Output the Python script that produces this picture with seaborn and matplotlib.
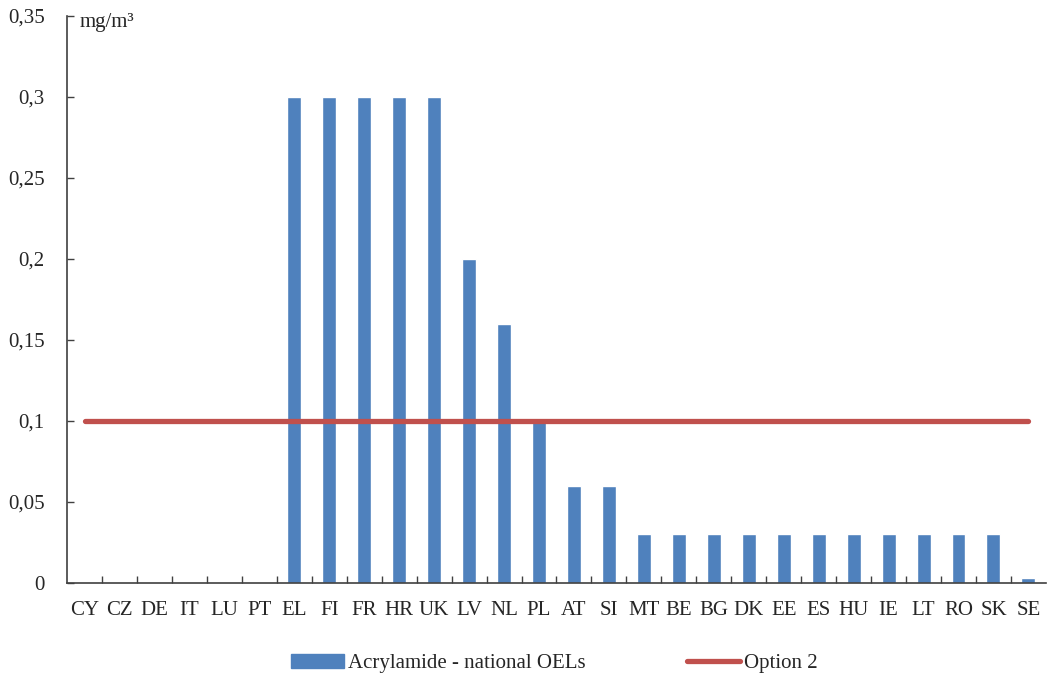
import numpy as np
import pandas as pd
import matplotlib
matplotlib.use('Agg')
import matplotlib.pyplot as plt
import seaborn as sns
from matplotlib.ticker import FixedLocator, FuncFormatter
from matplotlib.patches import Patch
from matplotlib.lines import Line2D

countries = ['CY', 'CZ', 'DE', 'IT', 'LU', 'PT', 'EL', 'FI', 'FR', 'HR', 'UK', 'LV', 'NL', 'PL',
             'AT', 'SI', 'MT', 'BE', 'BG', 'DK', 'EE', 'ES', 'HU', 'IE', 'LT', 'RO', 'SK', 'SE']
national_oels = [0, 0, 0, 0, 0, 0, 0.3, 0.3, 0.3, 0.3, 0.3, 0.2, 0.16, 0.1,
                 0.06, 0.06, 0.03, 0.03, 0.03, 0.03, 0.03, 0.03, 0.03, 0.03, 0.03, 0.03, 0.03, 0.003]
option2 = [0.1] * len(countries)

bar_color = '#4F81BD'
line_color = '#C0504D'

sns.set_style('white')
plt.rcParams['font.family'] = ['Liberation Serif', 'DejaVu Serif']

df = pd.DataFrame({'country': countries, 'oel': national_oels, 'option2': option2})

fig = plt.figure(figsize=(10.48, 6.81), dpi=100)
ax = fig.add_axes([0.064, 0.144, 0.934, 0.8325])

sns.barplot(data=df, x='country', y='oel', color=bar_color, width=0.4,
            saturation=1, ax=ax, order=countries)
ax.plot(np.arange(len(countries)), df['option2'], color=line_color, lw=3.8,
        solid_capstyle='round')

ax.set_xlim(-0.5, len(countries) - 0.5)
ax.set_ylim(0, 0.35)
ax.set_xlabel('')
ax.set_ylabel('')

ax.yaxis.set_major_locator(FixedLocator([0, 0.05, 0.1, 0.15, 0.2, 0.25, 0.3, 0.35]))
ax.yaxis.set_major_formatter(FuncFormatter(lambda v, p: ('%g' % round(v, 2)).replace('.', ',')))
ax.tick_params(axis='y', direction='in', length=5, width=1, color='#404040',
               labelsize=15, pad=16, left=True)
ax.tick_params(axis='x', which='major', length=0, labelsize=15, pad=13)
ax.xaxis.set_minor_locator(FixedLocator(np.arange(0.5, len(countries) - 0.5, 1)))
ax.tick_params(axis='x', which='minor', direction='in', length=5, width=1,
               color='#404040', bottom=True)

for s in ['top', 'right']:
    ax.spines[s].set_visible(False)
for s in ['left', 'bottom']:
    ax.spines[s].set_color('#404040')
    ax.spines[s].set_linewidth(1.2)

ax.text(0.013, 1.005, 'mg/m³', transform=ax.transAxes, fontsize=15, va='top', ha='left')

handles = [Patch(color=bar_color, label='Acrylamide - national OELs'),
           Line2D([0], [0], color=line_color, lw=3.8, solid_capstyle='round', label='Option 2')]
fig.legend(handles=handles, loc='center', bbox_to_anchor=(0.529, 0.026), ncol=2,
           frameon=False, fontsize=15, handlelength=2.5, handleheight=0.65,
           handletextpad=0.2, columnspacing=4.9)

fig.savefig('out.png', dpi=100)
